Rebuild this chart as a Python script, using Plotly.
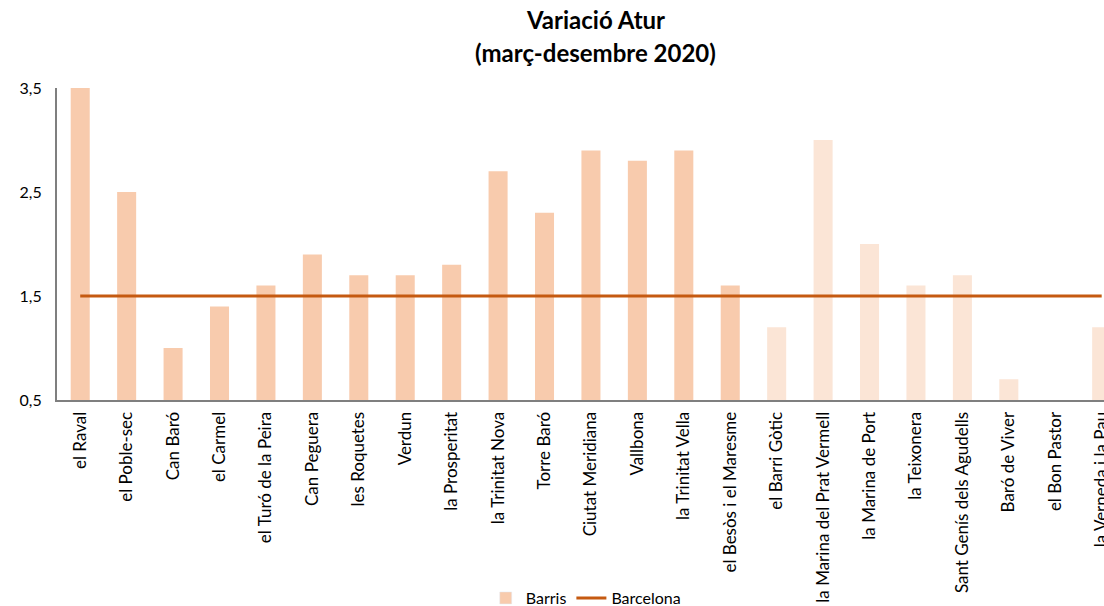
import plotly.graph_objects as go

barris = ["el Raval", "el Poble-sec", "Can Baró", "el Carmel", "el Turó de la Peira",
          "Can Peguera", "les Roquetes", "Verdun", "la Prosperitat", "la Trinitat Nova",
          "Torre Baró", "Ciutat Meridiana", "Vallbona", "la Trinitat Vella",
          "el Besòs i el Maresme", "el Barri Gòtic", "la Marina del Prat Vermell",
          "la Marina de Port", "la Teixonera", "Sant Genís dels Agudells",
          "Baró de Viver", "el Bon Pastor", "la Verneda i la Pau"]
variacio = [3.5, 2.5, 1.0, 1.4, 1.6, 1.9, 1.7, 1.7, 1.8, 2.7, 2.3, 2.9, 2.8, 2.9,
            1.6, 1.2, 3.0, 2.0, 1.6, 1.7, 0.7, 0.5, 1.2]
barcelona = [1.5] * len(barris)
n_dark = 15
colors = ["#F8CBAD"] * n_dark + ["#FBE5D6"] * (len(barris) - n_dark)

FONT = "Lato, Open Sans, sans-serif"
AXIS_COLOR = "#7F7F7F"

fig = go.Figure()
fig.add_trace(go.Bar(x=barris, y=variacio, name="Barris", marker_color=colors,
                     marker_line_width=0, width=0.41, showlegend=False))
# legend proxy for bars
fig.add_trace(go.Bar(x=[barris[0]], y=[None], name="Barris", marker_color="#F8CBAD",
                     showlegend=True))
fig.add_trace(go.Scatter(x=barris, y=barcelona, name="Barcelona", mode="lines",
                         line=dict(color="#C55A11", width=3)))

PLOT_H = 312
PLOT_W = 1047
TX = (595 - 57) / PLOT_W

fig.update_layout(
    width=1104, height=606,
    margin=dict(l=57, r=0, t=88, b=206, autoexpand=False),
    paper_bgcolor="white", plot_bgcolor="white",
    font=dict(family=FONT, size=16, color="#000000"),
    separators=",.",
    barmode="overlay",
    xaxis=dict(range=[-0.5, 22.05], tickangle=-90, automargin=False,
               showline=True, linecolor=AXIS_COLOR, linewidth=2,
               ticks="", showgrid=False, tickfont=dict(size=17), ticklabelstandoff=3),
    yaxis=dict(range=[0.5, 3.5], tickvals=[0.5, 1.5, 2.5, 3.5], tickformat=".1f",
               showline=True, linecolor=AXIS_COLOR, linewidth=2,
               ticks="", automargin=False,
               showgrid=False, zeroline=False, tickfont=dict(size=16),
               ticklabelstandoff=10),
    legend=dict(orientation="h", x=0.505, xanchor="center", y=-(598 - 400) / PLOT_H,
                yanchor="middle", font=dict(size=16), bgcolor="rgba(255,255,255,0)"),
    annotations=[
        dict(text="<b>Variació Atur</b>", xref="paper", yref="paper",
             x=TX, y=1 + (88 - 20) / PLOT_H, xanchor="center", yanchor="middle",
             showarrow=False, font=dict(size=24, family=FONT)),
        dict(text="<b>(març-desembre 2020)</b>", xref="paper", yref="paper",
             x=TX, y=1 + (88 - 53) / PLOT_H, xanchor="center", yanchor="middle",
             showarrow=False, font=dict(size=24, family=FONT)),
    ],
)

fig.write_html("out.html", config={"displayModeBar": False},
               post_script="document.body.style.margin='0';document.body.style.overflow='hidden';")
